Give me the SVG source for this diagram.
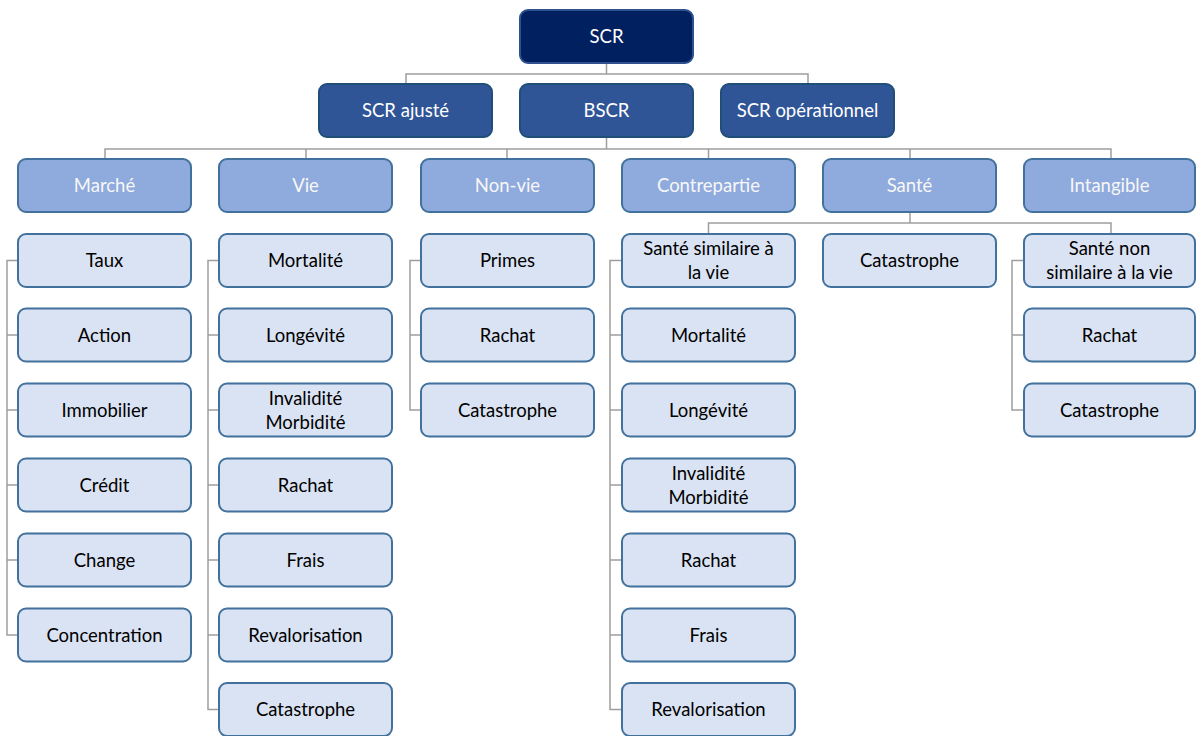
<svg xmlns="http://www.w3.org/2000/svg" width="1196" height="736" viewBox="0 0 1196 736">
  <style>
    text { font-family: Lato, "Open Sans", "Liberation Sans", sans-serif; font-size: 18.5px; text-anchor: middle; }
    .l1 rect { fill: #002060; stroke: #2F528F; stroke-width: 2; }
    .l2 rect { fill: #2F5597; stroke: #1F4E79; stroke-width: 2; }
    .l3 rect { fill: #8FAADC; stroke: #41719C; stroke-width: 2; }
    .leaf rect { fill: #DAE3F3; stroke: #41719C; stroke-width: 2; }
    .l1 text, .l2 text { fill: #FFFFFF; }
    .l3 text { fill: #F7F7F7; }
    .leaf text { fill: #000000; }
    #connectors path { fill: none; stroke: #9E9E9E; stroke-width: 1.5; }
  </style>
  <rect width="1196" height="736" fill="#FFFFFF"/>

  <!-- connectors -->
  <g id="connectors">
    <path d="M606.5 63 V74 M406 84 V74 H808 V84"/>
    <path d="M606.5 137 V149 M105 159 V149 H1111 V159 M306 149 V159 M507 149 V159 M708.5 149 V159 M910 149 V159"/>
    <path d="M910 213 V223 M708.5 234 V223 H1111 V234"/>
    <!-- Marché -->
    <path d="M18 260.5 H7 V635 H18 M7 335 H18 M7 410 H18 M7 485 H18 M7 560 H18"/>
    <!-- Vie -->
    <path d="M219 260.5 H208 V709.5 H219 M208 335 H219 M208 410 H219 M208 485 H219 M208 560 H219 M208 635 H219"/>
    <!-- Non-vie -->
    <path d="M421 260.5 H410 V410 H421 M410 335 H421"/>
    <!-- Santé similaire à la vie -->
    <path d="M622 260.5 H610 V709.5 H622 M610 335 H622 M610 410 H622 M610 485 H622 M610 560 H622 M610 635 H622"/>
    <!-- Santé non similaire à la vie -->
    <path d="M1024 260.5 H1012 V410 H1024 M1012 335 H1024"/>
  </g>

  <!-- level 1 -->
  <g id="n-scr" class="l1"><rect x="520" y="10" width="173" height="53" rx="8"/><text x="606.5" y="43">SCR</text></g>

  <!-- level 2 -->
  <g id="n-scr-ajuste" class="l2"><rect x="319" y="84" width="173" height="53" rx="8"/><text x="405.5" y="117">SCR ajusté</text></g>
  <g id="n-bscr" class="l2"><rect x="520" y="84" width="173" height="53" rx="8"/><text x="606.5" y="117">BSCR</text></g>
  <g id="n-scr-op" class="l2"><rect x="721" y="84" width="173" height="53" rx="8"/><text x="807.5" y="117">SCR opérationnel</text></g>

  <!-- level 3 -->
  <g id="n-marche" class="l3"><rect x="18" y="159" width="173" height="53" rx="8"/><text x="104.5" y="192">Marché</text></g>
  <g id="n-vie" class="l3"><rect x="219" y="159" width="173" height="53" rx="8"/><text x="305.5" y="192">Vie</text></g>
  <g id="n-nonvie" class="l3"><rect x="421" y="159" width="173" height="53" rx="8"/><text x="507.5" y="192">Non-vie</text></g>
  <g id="n-contrepartie" class="l3"><rect x="622" y="159" width="173" height="53" rx="8"/><text x="708.5" y="192">Contrepartie</text></g>
  <g id="n-sante" class="l3"><rect x="823" y="159" width="173" height="53" rx="8"/><text x="909.5" y="192">Santé</text></g>
  <g id="n-intangible" class="l3"><rect x="1024" y="159" width="171" height="53" rx="8"/><text x="1109.5" y="192">Intangible</text></g>

  <!-- Marché modules -->
  <g id="n-taux" class="leaf"><rect x="18" y="234" width="173" height="53" rx="8"/><text x="104.5" y="267">Taux</text></g>
  <g id="n-action" class="leaf"><rect x="18" y="308.5" width="173" height="53" rx="8"/><text x="104.5" y="341.5">Action</text></g>
  <g id="n-immobilier" class="leaf"><rect x="18" y="383.5" width="173" height="53" rx="8"/><text x="104.5" y="416.5">Immobilier</text></g>
  <g id="n-credit" class="leaf"><rect x="18" y="458.5" width="173" height="53" rx="8"/><text x="104.5" y="491.5">Crédit</text></g>
  <g id="n-change" class="leaf"><rect x="18" y="533.5" width="173" height="53" rx="8"/><text x="104.5" y="566.5">Change</text></g>
  <g id="n-concentration" class="leaf"><rect x="18" y="608.5" width="173" height="53" rx="8"/><text x="104.5" y="641.5">Concentration</text></g>

  <!-- Vie modules -->
  <g id="n-vie-mortalite" class="leaf"><rect x="219" y="234" width="173" height="53" rx="8"/><text x="305.5" y="267">Mortalité</text></g>
  <g id="n-vie-longevite" class="leaf"><rect x="219" y="308.5" width="173" height="53" rx="8"/><text x="305.5" y="341.5">Longévité</text></g>
  <g id="n-vie-invalidite" class="leaf"><rect x="219" y="383.5" width="173" height="53" rx="8"/><text x="305.5" y="404.5">Invalidité</text><text x="305.5" y="428.5">Morbidité</text></g>
  <g id="n-vie-rachat" class="leaf"><rect x="219" y="458.5" width="173" height="53" rx="8"/><text x="305.5" y="491.5">Rachat</text></g>
  <g id="n-vie-frais" class="leaf"><rect x="219" y="533.5" width="173" height="53" rx="8"/><text x="305.5" y="566.5">Frais</text></g>
  <g id="n-vie-revalorisation" class="leaf"><rect x="219" y="608.5" width="173" height="53" rx="8"/><text x="305.5" y="641.5">Revalorisation</text></g>
  <g id="n-vie-catastrophe" class="leaf"><rect x="219" y="683" width="173" height="53" rx="8"/><text x="305.5" y="716">Catastrophe</text></g>

  <!-- Non-vie modules -->
  <g id="n-nv-primes" class="leaf"><rect x="421" y="234" width="173" height="53" rx="8"/><text x="507.5" y="267">Primes</text></g>
  <g id="n-nv-rachat" class="leaf"><rect x="421" y="308.5" width="173" height="53" rx="8"/><text x="507.5" y="341.5">Rachat</text></g>
  <g id="n-nv-catastrophe" class="leaf"><rect x="421" y="383.5" width="173" height="53" rx="8"/><text x="507.5" y="416.5">Catastrophe</text></g>

  <!-- Santé modules -->
  <g id="n-sante-slt" class="leaf"><rect x="622" y="234" width="173" height="53" rx="8"/><text x="708.5" y="255">Santé similaire à</text><text x="708.5" y="279">la vie</text></g>
  <g id="n-slt-mortalite" class="leaf"><rect x="622" y="308.5" width="173" height="53" rx="8"/><text x="708.5" y="341.5">Mortalité</text></g>
  <g id="n-slt-longevite" class="leaf"><rect x="622" y="383.5" width="173" height="53" rx="8"/><text x="708.5" y="416.5">Longévité</text></g>
  <g id="n-slt-invalidite" class="leaf"><rect x="622" y="458.5" width="173" height="53" rx="8"/><text x="708.5" y="479.5">Invalidité</text><text x="708.5" y="503.5">Morbidité</text></g>
  <g id="n-slt-rachat" class="leaf"><rect x="622" y="533.5" width="173" height="53" rx="8"/><text x="708.5" y="566.5">Rachat</text></g>
  <g id="n-slt-frais" class="leaf"><rect x="622" y="608.5" width="173" height="53" rx="8"/><text x="708.5" y="641.5">Frais</text></g>
  <g id="n-slt-revalorisation" class="leaf"><rect x="622" y="683" width="173" height="53" rx="8"/><text x="708.5" y="716">Revalorisation</text></g>

  <g id="n-sante-catastrophe" class="leaf"><rect x="823" y="234" width="173" height="53" rx="8"/><text x="909.5" y="267">Catastrophe</text></g>

  <g id="n-sante-nslt" class="leaf"><rect x="1024" y="234" width="171" height="53" rx="8"/><text x="1109.5" y="255">Santé non</text><text x="1109.5" y="279">similaire à la vie</text></g>
  <g id="n-nslt-rachat" class="leaf"><rect x="1024" y="308.5" width="171" height="53" rx="8"/><text x="1109.5" y="341.5">Rachat</text></g>
  <g id="n-nslt-catastrophe" class="leaf"><rect x="1024" y="383.5" width="171" height="53" rx="8"/><text x="1109.5" y="416.5">Catastrophe</text></g>
</svg>
